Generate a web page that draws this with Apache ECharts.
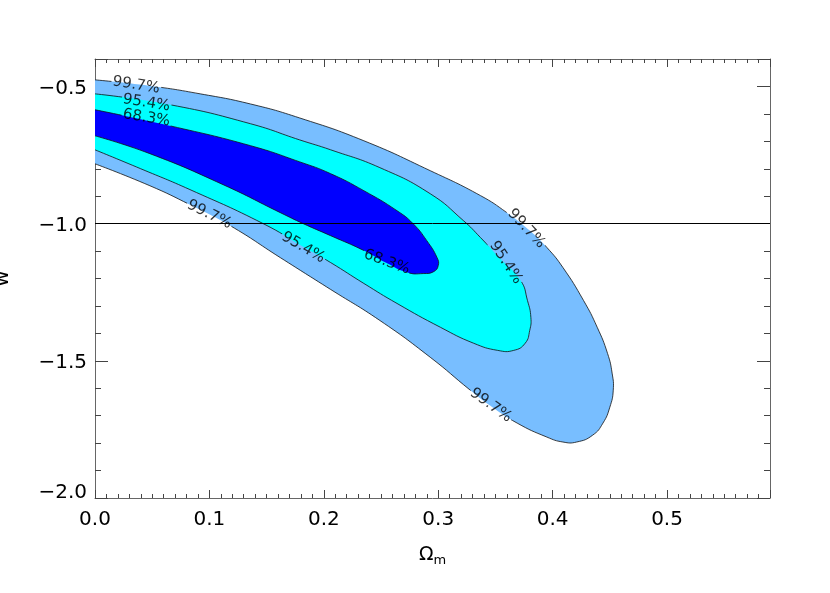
<!DOCTYPE html>
<html><head><meta charset="utf-8">
<script src="https://cdn.jsdelivr.net/npm/echarts@6/dist/echarts.min.js"></script>
<style>html,body{margin:0;padding:0;background:#fff}#c{width:830px;height:593px}</style>
</head><body><div id="c"></div>
<script>
// ---- data ----
const xTickLabels = [0.0, 0.1, 0.2, 0.3, 0.4, 0.5];
const yTickLabels = [-2.0, -1.5, -1.0, -0.5];
const refW = -1.0;

// contour boundaries [Omega_m, w], traced along the top, round the tip, back along the bottom
const contour997 = [
  [0.000,-0.476],[0.048,-0.498],[0.092,-0.527],[0.136,-0.564],[0.179,-0.615],[0.235,-0.698],
  [0.293,-0.807],[0.337,-0.898],[0.360,-0.960],[0.380,-1.025],[0.395,-1.087],[0.409,-1.160],
  [0.427,-1.280],[0.439,-1.378],[0.448,-1.473],[0.452,-1.545],[0.453,-1.607],[0.450,-1.669],
  [0.444,-1.727],[0.435,-1.771],[0.421,-1.796],[0.409,-1.796],[0.395,-1.778],[0.369,-1.727],
  [0.345,-1.662],[0.328,-1.607],[0.293,-1.487],[0.249,-1.353],[0.206,-1.240],[0.162,-1.124],
  [0.118,-1.007],[0.083,-0.931],[0.048,-0.862],[0.000,-0.782]
];
const contour954 = [
  [0.000,-0.527],[0.066,-0.567],[0.136,-0.636],[0.179,-0.695],[0.206,-0.731],[0.249,-0.796],
  [0.293,-0.891],[0.322,-0.989],[0.337,-1.051],[0.354,-1.127],[0.372,-1.207],[0.378,-1.280],
  [0.381,-1.342],[0.380,-1.389],[0.376,-1.436],[0.366,-1.462],[0.352,-1.462],[0.331,-1.436],
  [0.302,-1.378],[0.264,-1.291],[0.235,-1.218],[0.206,-1.142],[0.182,-1.084],[0.147,-1.000],
  [0.083,-0.876],[0.040,-0.800],[0.000,-0.731]
];
const contour683 = [
  [0.000,-0.585],[0.066,-0.644],[0.136,-0.716],[0.179,-0.775],[0.206,-0.818],[0.235,-0.880],
  [0.264,-0.953],[0.278,-1.000],[0.290,-1.062],[0.299,-1.124],[0.300,-1.153],[0.296,-1.175],
  [0.287,-1.182],[0.273,-1.178],[0.254,-1.142],[0.235,-1.098],[0.206,-1.044],[0.182,-1.000],
  [0.162,-0.960],[0.112,-0.858],[0.048,-0.745],[0.000,-0.680]
];

// contour labels
const labelText  = ['99.7%','95.4%','68.3%','99.7%','95.4%','68.3%','99.7%','95.4%','99.7%'];
const labelPos   = [[0.036,-0.495],[0.045,-0.560],[0.045,-0.615],[0.100,-0.967],[0.182,-1.087],
                    [0.255,-1.140],[0.377,-1.018],[0.359,-1.142],[0.346,-1.662]];
const labelAngle = [-9,-9,-9,-26,-30,-20,-47,-57,-36];

// ---- styles ----
const FONT = 'DejaVu Sans';
const LABEL_SIZE = 15;
const colors = {c997:'#78BEFF', c954:'#00FFFF', c683:'#0000FF'};
const near = (arr, v) => arr.some(t => Math.abs(t - v) < 1e-6);

// clip path: whole grid minus a small box under every contour label (lines are broken there)
function gapClipPath(params, api) {
  const cs = params.coordSys;
  const x0 = cs.x - 2, y0 = cs.y - 2, x1 = cs.x + cs.width + 2, y1 = cs.y + cs.height + 2;
  let d = `M${x0} ${y0}L${x1} ${y0}L${x1} ${y1}L${x0} ${y1}Z`;
  labelPos.forEach((p, i) => {
    const c = api.coord(p);
    const r = labelAngle[i] * Math.PI / 180;
    const ux = Math.cos(r), uy = -Math.sin(r), vx = Math.sin(r), vy = Math.cos(r);
    const hw = 0.5 * labelText[i].length * LABEL_SIZE * 0.64 + 1, hh = 6;
    const pt = (a, b) => `${(c[0] + ux * a + vx * b).toFixed(2)} ${(c[1] + uy * a + vy * b).toFixed(2)}`;
    d += `M${pt(-hw, -hh)}L${pt(-hw, hh)}L${pt(hw, hh)}L${pt(hw, -hh)}Z`;
  });
  return { type: 'path', shape: { pathData: d } };
}

function polySeries(name, pts, color) {
  return {
    type: 'custom', name, coordinateSystem: 'cartesian2d', xAxisIndex: 0, yAxisIndex: 0,
    clip: true, silent: true, z: 2,
    data: [pts[0]],
    renderItem: (params, api) => {
      const points = pts.map(p => api.coord(p));
      return {
        type: 'group',
        children: [
          { type: 'polyline', shape: { points, smooth: 0.5 },
            style: { fill: color, stroke: null } },
          { type: 'polyline', shape: { points, smooth: 0.5 },
            style: { fill: null, stroke: '#111', lineWidth: 0.8 },
            clipPath: gapClipPath(params, api) }
        ]
      };
    }
  };
}

const axisLineStyle = { color: '#666', width: 1 };
const tickStyle = { color: '#444', width: 1 };

function xAx(pos, major) {
  return {
    type: 'value', position: pos, min: 0, max: 0.59, interval: major ? 0.1 : 0.01,
    axisLine: { show: major, onZero: false, lineStyle: axisLineStyle },
    axisTick: { show: true, inside: true, length: major ? 8 : 4, lineStyle: tickStyle },
    splitLine: { show: false },
    axisLabel: (major && pos === 'bottom') ? {
      show: true, margin: 12, fontSize: 20, fontFamily: FONT, color: '#000',
      formatter: v => near(xTickLabels, v) ? v.toFixed(1) : ''
    } : { show: false }
  };
}
function yAx(pos, major) {
  return {
    type: 'value', position: pos, min: -2.0, max: -0.4, interval: major ? 0.5 : 0.1,
    axisLine: { show: major, onZero: false, lineStyle: axisLineStyle },
    axisTick: { show: true, inside: true, length: major ? 13 : 6, lineStyle: tickStyle },
    splitLine: { show: false },
    axisLabel: (major && pos === 'left') ? {
      show: true, margin: 8, fontSize: 20, fontFamily: FONT, color: '#000',
      formatter: v => {
        if (!near(yTickLabels, v)) return '';
        const s = '\u2212' + Math.abs(v).toFixed(1);
        return Math.abs(v - yTickLabels[0]) < 1e-6 ? '{low|' + s + '}' : '{n|' + s + '}';
      },
      rich: {
        n: { fontSize: 20, fontFamily: FONT, color: '#000', padding: [4, 0, 0, 0] },
        low: { fontSize: 20, fontFamily: FONT, color: '#000', padding: [0, 0, 10, 0] }
      }
    } : { show: false }
  };
}

const xAxes = [xAx('bottom', true), xAx('bottom', false), xAx('top', true), xAx('top', false)];
xAxes[0].name = '{o|\u03A9}{s|m}';
xAxes[0].nameLocation = 'middle';
xAxes[0].nameGap = 46;
xAxes[0].nameTextStyle = {
  rich: {
    o: { fontSize: 19, fontFamily: FONT, color: '#000' },
    s: { fontSize: 13, fontFamily: FONT, color: '#000', padding: [10, 0, 0, 0] }
  }
};
const yAxes = [yAx('left', true), yAx('left', false), yAx('right', true), yAx('right', false)];
yAxes[0].name = 'w';
yAxes[0].nameLocation = 'middle';
yAxes[0].nameRotate = 90;
yAxes[0].nameGap = 82;
yAxes[0].nameTextStyle = { fontSize: 20, fontFamily: FONT, color: '#000' };

const option = {
  animation: false,
  backgroundColor: '#fff',
  grid: { left: 95, right: 60, top: 59, bottom: 95, containLabel: false, outerBoundsMode: 'none' },
  xAxis: xAxes,
  yAxis: yAxes,
  series: [
    polySeries('99.7%', contour997, colors.c997),
    polySeries('95.4%', contour954, colors.c954),
    polySeries('68.3%', contour683, colors.c683),
    {
      type: 'line', xAxisIndex: 0, yAxisIndex: 0, data: [], silent: true,
      markLine: {
        silent: true, symbol: 'none', label: { show: false },
        lineStyle: { color: '#000', width: 1, type: 'solid' },
        data: [{ yAxis: refW }]
      }
    },
    {
      type: 'scatter', xAxisIndex: 0, yAxisIndex: 0, symbolSize: 0, silent: true, z: 10,
      data: labelPos.map((p, i) => ({
        value: p,
        label: { rotate: labelAngle[i], formatter: labelText[i] }
      })),
      label: { show: true, position: 'inside', fontSize: LABEL_SIZE, fontFamily: FONT, color: '#000' }
    }
  ]
};
const chart = echarts.init(document.getElementById('c'));
chart.setOption(option);
</script>
</body></html>
